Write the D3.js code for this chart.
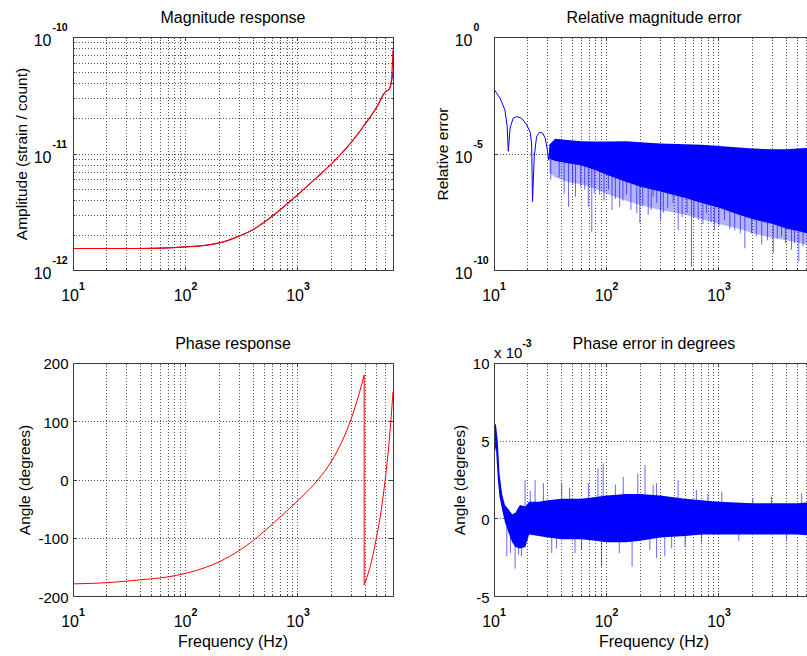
<!DOCTYPE html>
<meta charset="utf-8">
<style>
body { margin: 0; overflow: hidden; background: #fff; }
svg { display: block; font-family: "Liberation Sans", Arial, sans-serif; }
.title { font-size: 16px; fill: #000; }
.axis-label { font-size: 15.5px; fill: #000; }
.tick-base { font-size: 16px; fill: #000; }
.tick-exp { font-size: 10.5px; font-weight: bold; fill: #000; }
.tick-num { font-size: 15px; fill: #000; }
.grid line { stroke: #555; stroke-width: 1; stroke-dasharray: 1,2; shape-rendering: crispEdges; }
.box { fill: none; stroke: #3c3c3c; stroke-width: 1; shape-rendering: crispEdges; }
.ticks line { stroke: #3c3c3c; stroke-width: 1; shape-rendering: crispEdges; }
</style>
<body>
<svg id="chart" width="807" height="656"></svg>
<script src="https://cdn.jsdelivr.net/npm/d3@7/dist/d3.min.js"></script>
<script>

// ---- data ----
var freqDomain = [10, 7000];
var freqTicks = [10, 100, 1000];

// magnitude response (strain / count)
var magFreq  = [10, 40, 100, 150, 200, 300, 400, 500, 700, 1000, 1500, 2000, 3000, 4000, 5000, 6000, 6500, 6800, 7000];
var magModel = [1.55e-12, 1.55e-12, 1.60e-12, 1.65e-12, 1.73e-12, 1.98e-12, 2.25e-12, 2.6e-12, 3.35e-12, 4.5e-12, 6.4e-12, 8.3e-12, 1.27e-11, 1.83e-11, 2.51e-11, 3.42e-11, 3.6e-11, 4.2e-11, 5.0e-11];
var magFit   = [1.55e-12, 1.55e-12, 1.60e-12, 1.65e-12, 1.73e-12, 1.98e-12, 2.25e-12, 2.6e-12, 3.35e-12, 4.5e-12, 6.4e-12, 8.3e-12, 1.27e-11, 1.83e-11, 2.51e-11, 3.42e-11, 3.6e-11, 4.4e-11, 7.8e-11];
var magTicks = [1e-12, 1e-11, 1e-10];

// phase response (degrees)
var phaseFreq = [10, 20, 40, 70, 100, 150, 200, 300, 400, 500, 700, 1000, 1500, 2000, 3000, 3500, 3880, 3880, 4500, 4960, 5500, 5960, 6500, 7000];
var phaseDeg  = [-178, -176, -171, -166, -160, -150, -140, -121, -104, -88, -63, -35, 0, 33, 107, 148, 180, -180, -140, -101, -52, 0, 70, 151];
var phaseTicks = [-200, -100, 0, 100, 200];

// relative magnitude error: smooth low-frequency part
var relFreq = [10, 11.3, 12.5, 13.1, 13.4, 13.9, 14.8, 15.9, 17.6, 19.5, 20.9, 21.6, 22.0, 22.8, 23.9, 25.3, 27.1, 28.6, 29.8, 30.6, 31.4];
var relErr  = [6.0e-3, 2.5e-3, 7.8e-4, 1.5e-4, 1.3e-5, 1.3e-4, 3.4e-4, 4.0e-4, 3.4e-4, 1.8e-4, 9.1e-5, 2.9e-5, 9.1e-8, 7.8e-6, 5.5e-5, 8.5e-5, 7.8e-5, 4.7e-5, 1.5e-5, 5.5e-6, 1.8e-5];
// relative magnitude error: noisy band envelopes
var relBandFreq  = [31, 35, 45, 60, 80, 100, 150, 200, 300, 500, 700, 1000, 1500, 2000, 3000, 4000, 5000, 6000, 7000];
var relBandHigh  = [2.5e-5, 4.5e-5, 4.0e-5, 3.5e-5, 3.4e-5, 3.4e-5, 3.5e-5, 3.2e-5, 2.8e-5, 2.6e-5, 2.5e-5, 2.2e-5, 1.9e-5, 1.7e-5, 1.6e-5, 1.6e-5, 1.7e-5, 1.8e-5, 1.8e-5];
var relBandLow   = [6.3e-6, 5.0e-6, 4.0e-6, 3.2e-6, 2.0e-6, 1.3e-6, 6.3e-7, 4.0e-7, 2.5e-7, 1.3e-7, 7.9e-8, 5.0e-8, 2.5e-8, 1.6e-8, 1.0e-8, 6.3e-9, 5.0e-9, 4.0e-9, 4.0e-9];
var relBandFringe = [1.6e-6, 1.0e-6, 6.3e-7, 5.0e-7, 3.2e-7, 2.0e-7, 1.0e-7, 6.3e-8, 4.0e-8, 2.5e-8, 1.6e-8, 1.0e-8, 6.3e-9, 4.0e-9, 2.5e-9, 2.0e-9, 1.6e-9, 1.3e-9, 1.3e-9];
var relSpikeFreq = [32, 38, 42, 46, 50, 53, 59, 64, 69, 74, 78, 87, 95, 104, 112, 120, 131, 140, 151, 165,
  186, 198, 210, 235, 250, 260, 280, 303, 320, 350, 392, 434, 470, 520, 570, 600, 654, 720, 773, 850,
  915, 1000, 1120, 1250, 1380, 1550, 1700, 1950, 2150, 2400, 2700, 3040, 3300, 3600, 3900, 4420, 4700, 5130, 5600, 6200, 6700];
var relSpikeVal  = [7.9e-7, 1.0e-6, 2.0e-7, 5.5e-8, 5.0e-7, 1.5e-7, 4.0e-7, 3.0e-7, 5.5e-8, 4.7e-9, 2.0e-7, 1.8e-7, 1.0e-7, 2.9e-7, 4.0e-8, 1.2e-7, 5.5e-8, 1.0e-7, 1.8e-7, 4.0e-8,
  2.9e-8, 1.1e-8, 6.0e-8, 2.5e-8, 4.0e-8, 1.5e-7, 8.0e-8, 1.5e-8, 3.0e-8, 5.0e-8, 7.9e-8, 5.5e-9, 2.0e-8, 3.0e-8, 1.5e-10, 2.0e-8, 1.5e-8, 1.0e-8, 2.9e-8, 1.2e-8,
  5.5e-9, 8.0e-9, 1.5e-8, 6.0e-9, 5.5e-9, 4.0e-9, 9.1e-10, 4.0e-9, 3.0e-9, 1.3e-9, 2.0e-9, 5.6e-10, 2.5e-9, 2.9e-9, 1.5e-9, 7.9e-10, 1.5e-9, 2.5e-10, 1.1e-9, 1.2e-9, 1.0e-9];
var relTicks = [1e-10, 1e-5, 1];

// phase error (x 1e-3 degrees)
var perrFreq = [10, 10.4, 10.8, 11.2, 11.8, 12.5, 13.5, 14.5, 15.5, 17, 19, 20.5, 25, 30, 40, 60, 80, 100, 150, 200, 300, 500, 700, 1000, 2000, 3000, 5000, 7000];
var perrHigh = [6.0, 6.1, 5.0, 2.9, 1.6, 0.9, 0.6, 0.3, 0.4, 0.9, 0.8, 1.1, 1.1, 1.2, 1.3, 1.3, 1.4, 1.5, 1.6, 1.6, 1.5, 1.3, 1.2, 1.1, 1.0, 1.0, 1.0, 1.1];
var perrLow  = [4.0, 4.6, 2.6, 1.4, 0.6, -0.2, -0.9, -1.5, -1.8, -1.9, -1.8, -1.0, -1.1, -1.2, -1.3, -1.3, -1.4, -1.5, -1.5, -1.4, -1.2, -1.1, -1.0, -1.0, -1.0, -1.0, -1.0, -1.1];
var perrSpikeFreq = [13, 14, 15.4, 16.5, 17.6, 18.9, 21, 23.2, 27.5, 32.6, 36, 40, 47, 52.5, 60, 69, 84, 90.5, 93.5, 120, 130, 141, 169, 190, 220, 243, 260, 279, 279, 330, 380, 433, 500, 630, 700, 800, 1060, 1500, 2000, 2930, 4000, 5440, 6500];
var perrSpikeVal  = [-2.4, -2.2, -3.2, -2.3, -2.4, 2.5, 1.8, 2.5, 2.3, -2.2, -1.9, 2.3, 2.0, -2.2, -2.0, 2.3, 3.25, -3.07, 3.57, 2.2, -2.2, 2.7, -3.07, 2.9, 3.46, -2.0, 2.2, 2.3, -2.5, -2.4, -1.9, 2.5, -1.8, 1.86, -1.5, 1.6, 1.75, -1.4, 1.3, 1.43, -1.35, 1.65, 1.4];
var perrTicks = [-5, 0, 5, 10];

// ---- layout ----
var svg = d3.select("#chart");
var W = 320, H = 233.4;
var colLeft = [73, 494], rowTop = [37.3, 363.3];
var blue = "#0000ff", red = "#ff0000";

function crisp(v) { return Math.round(v - 0.5) + 0.5; }

function freqScale(left) {
  return d3.scaleLog().domain(freqDomain).range([left, left + W]);
}

function addGrid(g, x, y, xVals, yVals) {
  var L = x.range()[0], R = x.range()[1], B = y.range()[0], T = y.range()[1];
  var grid = g.append("g").attr("class", "grid");
  grid.selectAll(".gx").data(xVals).join("line").attr("class", "gx")
    .attr("x1", d => crisp(x(d))).attr("x2", d => crisp(x(d)))
    .attr("y1", T).attr("y2", B);
  grid.selectAll(".gy").data(yVals).join("line").attr("class", "gy")
    .attr("y1", d => crisp(y(d))).attr("y2", d => crisp(y(d)))
    .attr("x1", L).attr("x2", R);
}

function addFrame(g, x, y, xMinor, yMinor, yMajor) {
  var L = x.range()[0], R = x.range()[1], B = y.range()[0], T = y.range()[1];
  var t = g.append("g").attr("class", "ticks");
  function vt(vals, len) {
    t.selectAll(null).data(vals).join("line")
      .attr("x1", d => crisp(x(d))).attr("x2", d => crisp(x(d)))
      .attr("y1", B).attr("y2", B - len);
    t.selectAll(null).data(vals).join("line")
      .attr("x1", d => crisp(x(d))).attr("x2", d => crisp(x(d)))
      .attr("y1", T).attr("y2", T + len);
  }
  function ht(vals, len) {
    t.selectAll(null).data(vals).join("line")
      .attr("y1", d => crisp(y(d))).attr("y2", d => crisp(y(d)))
      .attr("x1", L).attr("x2", L + len);
    t.selectAll(null).data(vals).join("line")
      .attr("y1", d => crisp(y(d))).attr("y2", d => crisp(y(d)))
      .attr("x1", R).attr("x2", R - len);
  }
  vt(xMinor, 2); vt(freqTicks, 4);
  ht(yMinor, 2); ht(yMajor, 4);
  g.append("rect").attr("class", "box")
    .attr("x", crisp(L)).attr("y", crisp(T))
    .attr("width", Math.round(R - L)).attr("height", Math.round(B - T));

  // x tick labels, 10 with exponent
  g.selectAll(".xlab").data(freqTicks).join("text").attr("class", "xlab tick-base")
    .attr("x", d => x(d)).attr("y", B + 30.5).attr("text-anchor", "middle")
    .each(function(d) {
      var s = d3.select(this);
      s.append("tspan").text("10");
      s.append("tspan").attr("class", "tick-exp").attr("dy", -11).text(Math.round(Math.log10(d)));
    });
}

function logYLabels(g, y, L, vals) {
  g.selectAll(".ylab").data(vals).join("text").attr("class", "tick-base")
    .attr("x", L - 21.5).attr("y", d => y(d) + 8.5).attr("text-anchor", "end").text("10");
  g.selectAll(".yexp").data(vals).join("text").attr("class", "tick-exp")
    .attr("x", L - 20.5).attr("y", d => y(d) - 6.5).text(d => Math.round(Math.log10(d)));
}

function linYLabels(g, y, L, vals) {
  g.selectAll(".ylab").data(vals).join("text").attr("class", "tick-num")
    .attr("x", L - 4.5).attr("y", d => y(d) + 6).attr("text-anchor", "end").text(d => d);
}

function titles(g, x, y, title, ylab, ylabX, xlab) {
  var L = x.range()[0], R = x.range()[1], B = y.range()[0], T = y.range()[1];
  g.append("text").attr("class", "title").attr("x", (L + R) / 2).attr("y", T - 14.5)
    .attr("text-anchor", "middle").text(title);
  g.append("text").attr("class", "axis-label").attr("text-anchor", "middle")
    .attr("transform", "translate(" + ylabX + "," + ((T + B) / 2) + ") rotate(-90)").text(ylab);
  if (xlab) {
    g.append("text").attr("class", "title").attr("x", (L + R) / 2).attr("y", B + 50)
      .attr("text-anchor", "middle").text(xlab);
  }
}

// ---- Magnitude response ----
(function() {
  var g = svg.append("g");
  var x = freqScale(colLeft[0]);
  var y = d3.scaleLog().domain([magTicks[0], magTicks[2]]).range([rowTop[0] + H, rowTop[0]]);
  var xMinor = x.ticks().filter(d => freqTicks.indexOf(d) < 0);
  var yAll = y.ticks();
  var yMinor = yAll.filter(d => magTicks.every(m => Math.abs(d / m - 1) > 1e-6));
  addGrid(g, x, y, x.ticks().filter(d => d > freqDomain[0] && d < freqDomain[1]),
    yAll.filter(d => d > magTicks[0] * 1.01 && d < magTicks[2] * 0.99));

  var line = d3.line().x(d => x(d[0])).y(d => y(d[1])).curve(d3.curveMonotoneX);
  g.append("path").attr("d", line(magFreq.map((f, i) => [f, magModel[i]])))
    .attr("fill", "none").attr("stroke", blue).attr("stroke-width", 0.9);
  g.append("path").attr("d", line(magFreq.map((f, i) => [f, magFit[i]])))
    .attr("fill", "none").attr("stroke", red).attr("stroke-width", 1.2);

  addFrame(g, x, y, xMinor, yMinor, magTicks);
  logYLabels(g, y, colLeft[0], magTicks);
  titles(g, x, y, "Magnitude response", "Amplitude (strain / count)", 26.5, null);
})();

// ---- Relative magnitude error ----
(function() {
  var g = svg.append("g");
  var x = freqScale(colLeft[1]);
  var y = d3.scaleLog().domain([relTicks[0], relTicks[2]]).range([rowTop[0] + H, rowTop[0]]);
  var xMinor = x.ticks().filter(d => freqTicks.indexOf(d) < 0);
  addGrid(g, x, y, x.ticks().filter(d => d > freqDomain[0] && d < freqDomain[1]), [relTicks[1]]);

  // downward spikes, drawn from inside the dense band
  g.append("g").selectAll("line").data(relSpikeFreq).join("line")
    .attr("x1", d => x(d)).attr("x2", d => x(d))
    .attr("y1", y(1e-5)).attr("y2", (d, i) => y(relSpikeVal[i]))
    .attr("stroke", blue).attr("stroke-opacity", 0.6).attr("stroke-width", 1);

  var pts = relBandFreq.map((f, i) => ({ f: f, hi: relBandHigh[i], lo: relBandLow[i], fr: relBandFringe[i] }));
  g.append("path").attr("d", d3.area().x(d => x(d.f)).y0(d => y(d.fr)).y1(d => y(d.lo))(pts))
    .attr("fill", blue).attr("fill-opacity", 0.3);
  g.append("path").attr("d", d3.area().x(d => x(d.f)).y0(d => y(d.lo)).y1(d => y(d.hi))(pts))
    .attr("fill", blue);

  g.append("path").attr("d", d3.line().x(d => x(d[0])).y(d => y(d[1]))(relFreq.map((f, i) => [f, relErr[i]])))
    .attr("fill", "none").attr("stroke", blue).attr("stroke-width", 1);

  addFrame(g, x, y, xMinor, [], relTicks);
  logYLabels(g, y, colLeft[1], relTicks);
  titles(g, x, y, "Relative magnitude error", "Relative error", 448, null);
})();

// ---- Phase response ----
(function() {
  var g = svg.append("g");
  var x = freqScale(colLeft[0]);
  var y = d3.scaleLinear().domain([phaseTicks[0], phaseTicks[4]]).range([rowTop[1] + H, rowTop[1]]);
  var xMinor = x.ticks().filter(d => freqTicks.indexOf(d) < 0);
  addGrid(g, x, y, x.ticks().filter(d => d > freqDomain[0] && d < freqDomain[1]), phaseTicks.slice(1, 4));

  var pts = phaseFreq.map((f, i) => [f, phaseDeg[i]]);
  var segs = [[]];
  pts.forEach(function(p, i) {
    if (i > 0 && p[1] - pts[i - 1][1] < -180) segs.push([]);
    segs[segs.length - 1].push(p);
  });
  var line = d3.line().x(d => x(d[0])).y(d => y(d[1]));
  segs.forEach(function(s, k) {
    g.append("path").attr("d", line.curve(d3.curveMonotoneX)(s))
      .attr("fill", "none").attr("stroke", red).attr("stroke-width", 1);
    if (k > 0) {
      var prev = segs[k - 1];
      g.append("path").attr("d", line.curve(d3.curveLinear)([prev[prev.length - 1], s[0]]))
        .attr("fill", "none").attr("stroke", red).attr("stroke-width", 1);
    }
  });

  addFrame(g, x, y, xMinor, [], phaseTicks);
  linYLabels(g, y, colLeft[0], phaseTicks);
  titles(g, x, y, "Phase response", "Angle (degrees)", 29.5, "Frequency (Hz)");
})();

// ---- Phase error in degrees ----
(function() {
  var g = svg.append("g");
  var x = freqScale(colLeft[1]);
  var y = d3.scaleLinear().domain([perrTicks[0], perrTicks[3]]).range([rowTop[1] + H, rowTop[1]]);
  var xMinor = x.ticks().filter(d => freqTicks.indexOf(d) < 0);
  addGrid(g, x, y, x.ticks().filter(d => d > freqDomain[0] && d < freqDomain[1]), perrTicks.slice(1, 3));

  g.append("g").selectAll("line").data(perrSpikeFreq).join("line")
    .attr("x1", d => x(d)).attr("x2", d => x(d))
    .attr("y1", y(0)).attr("y2", (d, i) => y(perrSpikeVal[i]))
    .attr("stroke", blue).attr("stroke-opacity", 0.6).attr("stroke-width", 1);

  var pts = perrFreq.map((f, i) => ({ f: f, hi: perrHigh[i], lo: perrLow[i] }));
  g.append("path").attr("d", d3.area().x(d => x(d.f)).y0(d => y(d.lo)).y1(d => y(d.hi))(pts))
    .attr("fill", blue);

  addFrame(g, x, y, xMinor, [], perrTicks);
  linYLabels(g, y, colLeft[1], perrTicks);
  titles(g, x, y, "Phase error in degrees", "Angle (degrees)", 464.5, "Frequency (Hz)");

  // axis multiplier
  var m = g.append("text").attr("class", "tick-num").attr("x", colLeft[1]).attr("y", rowTop[1] - 5);
  m.append("tspan").text("x 10");
  m.append("tspan").attr("class", "tick-exp").attr("dy", -11).text("-3");
})();

</script>
</body>
